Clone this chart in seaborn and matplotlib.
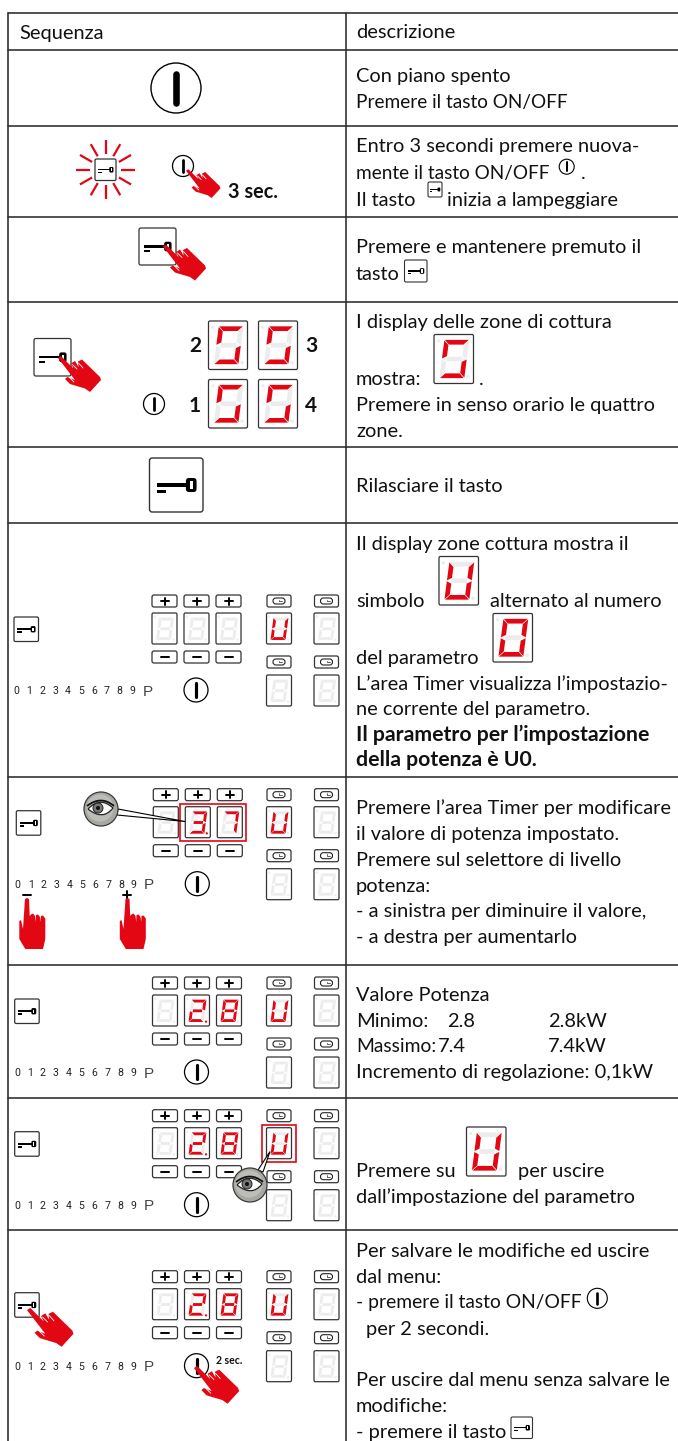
import pandas as pd
import matplotlib
matplotlib.use("Agg")
import matplotlib.pyplot as plt
import seaborn as sns
from matplotlib.patches import Circle, FancyBboxPatch, PathPatch, Polygon, Rectangle
from matplotlib.path import Path

# ===============================
# Table content
# ===============================
header_labels = ["Sequenza", "descrizione"]
row_edges = [12.5, 49.5, 125.5, 216.5, 301.5, 446.5, 522.5, 777, 965, 1097.5, 1229.5]
column_edges = [7.5, 345.5]

left_text = 356
body_lines = [
    ("Con piano spento", left_text, 82, False),
    ("Premere il tasto ON/OFF", left_text, 108, False),
    ("Entro 3 secondi premere nuova-", left_text, 152, False),
    ("mente il tasto ON/OFF", left_text, 179, False),
    (".", 581, 179, False),
    ("Il tasto", left_text, 206, False),
    ("inizia a lampeggiare", 447, 206, False),
    ("Premere e mantenere premuto il", left_text, 253, False),
    ("tasto", left_text, 280, False),
    ("I display delle zone di cottura", left_text, 328, False),
    ("mostra:", left_text, 385, False),
    (".", 479, 385, False),
    ("Premere in senso orario le quattro", left_text, 411, False),
    ("zone.", left_text, 437, False),
    ("Rilasciare il tasto", left_text, 492.5, False),
    ("Il display zone cottura mostra il", left_text, 550, False),
    ("simbolo", left_text, 607, False),
    ("alternato al numero", 490, 607, False),
    ("del parametro", left_text, 664, False),
    ("L’area Timer visualizza l’impostazio-", left_text, 690, False),
    ("ne corrente del parametro.", left_text, 715, False),
    ("Il parametro per l’impostazione", left_text, 741, True),
    ("della potenza è U0.", left_text, 766, True),
    ("Premere l’area Timer per modificare", left_text, 814, False),
    ("il valore di potenza impostato.", left_text, 840, False),
    ("Premere sul selettore di livello", left_text, 866, False),
    ("potenza:", left_text, 892, False),
    ("- a sinistra per diminuire il valore,", left_text, 917, False),
    ("- a destra per aumentarlo", left_text, 943, False),
    ("Valore Potenza", left_text, 1001, False),
    ("Minimo:", left_text, 1027, False),
    ("2.8", 447, 1027, False),
    ("2.8kW", 548, 1027, False),
    ("Massimo:", left_text, 1052, False),
    ("7.4", 438, 1052, False),
    ("7.4kW", 548, 1052, False),
    ("Incremento di regolazione: 0,1kW", left_text, 1078, False),
    ("Premere su", left_text, 1177, False),
    ("per uscire", 518, 1177, False),
    ("dall’impostazione del parametro", left_text, 1203, False),
    ("Per salvare le modifiche ed uscire", left_text, 1257, False),
    ("dal menu:", left_text, 1283, False),
    ("- premere il tasto ON/OFF", left_text, 1308, False),
    ("per 2 secondi.", 366, 1335, False),
    ("Per uscire dal menu senza salvare le", left_text, 1386, False),
    ("modifiche:", left_text, 1412, False),
    ("- premere il tasto", left_text, 1438, False),
]
# lines where Lato runs wider than the original face
narrow_lines = {"Premere il tasto ON/OFF": 13.7, "mente il tasto ON/OFF": 13.7,
                "- premere il tasto ON/OFF": 13.9, "Massimo:": 13.9}

scale_labels = ["0", "1", "2", "3", "4", "5", "6", "7", "8", "9"]
zone_labels = [("2", 195, 352.5), ("3", 311, 352.5), ("1", 195, 411.5), ("4", 311, 411.5)]
panel_offsets = [0, 193.7, 382, 514.7, 675.7]
panel_shift = [0, 1.3, 0.5, 0.5, 0.5]
panel_key_x = [14, 16.3, 14.7, 14.7, 14.7]
panel_digits = [["", "", ""], ["", "3.", "7"], ["", "2.", "8"], ["", "2.", "8"], ["", "2.", "8"]]

segments_for = {"": "", "0": "abcdef", "2": "abged", "3": "abgcd", "5": "afcd",
                "7": "abc", "8": "abcdefg", "U": "bcdef"}

RED = "#e30613"
OFF = "#ececec"
INK = "#111111"
BODY_FONT = ["Lato", "DejaVu Sans"]
BODY_SIZE = 14.4
BOLD_SIZE = 15.3

# ===============================
# Figure
# ===============================
sns.set_theme(style="white")
plt.rcParams["font.family"] = BODY_FONT

fig = plt.figure(figsize=(6.78, 14.41), dpi=100)
ax = fig.add_axes([0, 0, 1, 1])

# table rules go through seaborn as one long table
rules = []
for i, y in enumerate(row_edges):
    rules += [{"rule": f"h{i}", "x": column_edges[0], "y": y}, {"rule": f"h{i}", "x": 678, "y": y}]
for i, x in enumerate(column_edges):
    rules += [{"rule": f"v{i}", "x": x, "y": row_edges[0]}, {"rule": f"v{i}", "x": x, "y": 1441}]
rules = pd.DataFrame(rules)
sns.lineplot(data=rules, x="x", y="y", units="rule", estimator=None, sort=False,
             color="#2b2b2b", linewidth=1.15, legend=False, ax=ax, zorder=1)

ax.set_xlim(0, 678)
ax.set_ylim(1441, 0)
ax.axis("off")


# ===============================
# Drawing helpers (pixel coordinates)
# ===============================
def rbox(x0, y0, x1, y1, lw=0.9, round_px=2, fc="white", ec="#333333", z=3):
    ax.add_patch(FancyBboxPatch((x0, y0), x1 - x0, y1 - y0, mutation_aspect=1,
                                boxstyle=f"round,pad=0,rounding_size={round_px}",
                                fc=fc, ec=ec, lw=lw, zorder=z))


def key(x0, y0, x1, y1, lw=0.9):
    w, h = x1 - x0, y1 - y0
    rbox(x0, y0, x1, y1, lw=lw, round_px=max(1.5, w * 0.05))
    t = h * 0.065
    yc = y0 + h * 0.5
    ax.add_patch(Rectangle((x0 + w * 0.14, yc - t / 2), w * 0.56, t, fc="black", ec="none", zorder=4))
    ax.add_patch(Rectangle((x0 + w * 0.14, yc + h * 0.09), w * 0.17, t, fc="black", ec="none", zorder=4))
    rbox(x0 + w * 0.68, yc - h * 0.13, x0 + w * 0.88, yc + h * 0.13, lw=0, round_px=w * 0.06, fc="black", ec="none", z=4)
    ax.add_patch(Rectangle((x0 + w * 0.755, yc - h * 0.07), w * 0.05, h * 0.14, fc="white", ec="none", zorder=5))


def power(cx, cy, r, lw=0.9):
    ax.add_patch(Circle((cx, cy), r, fc="white", ec="black", lw=lw, zorder=3))
    ax.plot([cx, cx], [cy - r * 0.58, cy + r * 0.58], color="black", lw=r * 0.19,
            solid_capstyle="round", zorder=4)


def digit(x0, y0, x1, y1, char="", lw=0.9, inset=(0.2, 0.83, 0.11, 0.89)):
    rbox(x0, y0, x1, y1, lw=lw, round_px=1.5)
    w, h = x1 - x0, y1 - y0
    dot = char.endswith(".")
    on = segments_for[char.rstrip(".")]
    X0, W = x0 + w * inset[0], w * (inset[1] - inset[0])
    Y0, H = y0 + h * inset[2], h * (inset[3] - inset[2])
    t, g, lean = W * 0.19, W * 0.02, W * 0.2
    shapes = {
        "a": [(g, 0), (W - g, 0), (W - g - t, t), (g + t, t)],
        "d": [(g + t, H - t), (W - g - t, H - t), (W - g, H), (g, H)],
        "g": [(t, H / 2 - t / 2), (W - t, H / 2 - t / 2), (W - t, H / 2 + t / 2), (t, H / 2 + t / 2)],
        "f": [(0, g), (t, g + t), (t, H / 2 - g - t / 2), (0, H / 2 - g)],
        "e": [(0, H / 2 + g), (t, H / 2 + g + t / 2), (t, H - g - t), (0, H - g)],
        "b": [(W, g), (W - t, g + t), (W - t, H / 2 - g - t / 2), (W, H / 2 - g)],
        "c": [(W, H / 2 + g), (W - t, H / 2 + g + t / 2), (W - t, H - g - t), (W, H - g)],
    }
    for name, pts in shapes.items():
        verts = [(X0 + u + (0.5 - v / H) * lean, Y0 + v) for u, v in pts]
        ax.add_patch(Polygon(verts, closed=True, fc=RED if name in on else OFF, ec="none", zorder=4))
    ax.add_patch(Circle((x0 + w * 0.11, y0 + h * 0.13), w * 0.04, fc=OFF, ec="none", zorder=4))
    ax.add_patch(Circle((x0 + w * 0.86, y0 + h * 0.86), w * 0.045, fc=RED if dot else OFF, ec="none", zorder=4))


hand_outline = [(0, 1), (3, -1), (15.5, 11.5), (13, 6.5), (17, 4), (20.5, 10), (20, 4.5), (24, 2.5),
                (42, 20), (43, 23), (32, 35), (27, 31.5), (12, 27), (7, 22), (9.5, 20), (17, 23)]
hand_splits = [((14.5, 7.5), (19, 12)), ((20.5, 6), (25, 11)), ((11, 20), (16, 25))]


def hand(tx, ty, scale=1.0):
    pts = [(tx + u * scale, ty + v * scale) for u, v in hand_outline]
    ax.add_patch(Polygon(pts, closed=True, fc=RED, ec="none", zorder=7))
    for a, b in hand_splits:
        ax.plot([tx + a[0] * scale, tx + b[0] * scale], [ty + a[1] * scale, ty + b[1] * scale],
                color="white", lw=0.6, zorder=8)


finger_outline = [(0, 1), (2, 0), (4, 1), (4.7, 18), (6, 16.5), (8, 15.5), (10, 18), (10.7, 24), (11, 17),
                  (13, 16.5), (15, 19), (15.7, 24), (16, 18), (18, 17.5), (20.3, 20.5), (20.3, 41),
                  (18, 51), (0.3, 51), (-5.7, 41), (-5.7, 23), (-4, 22), (-2, 31)]


def pointing_hand(x, y):
    pts = [(x + u, y + v) for u, v in finger_outline]
    ax.add_patch(Polygon(pts, closed=True, fc=RED, ec="none", zorder=7))


def eye(cx, cy, target, start_a, start_b):
    r = 17
    ax.add_patch(Polygon([start_a, start_b, target], closed=True, fc="white", ec="black", lw=0.8, zorder=6))
    ax.add_patch(Circle((cx, cy), r, fc="#a8a8a3", ec="#3a3a3a", lw=0.9, zorder=6))
    ax.add_patch(Circle((cx - 1, cy - 1), r * 0.8, fc="#bdbdb8", ec="none", zorder=6))
    almond = Path([(cx - 13, cy), (cx - 1, cy - 13), (cx + 12, cy - 1), (cx + 2, cy + 12), (cx - 13, cy)],
                  [Path.MOVETO, Path.CURVE3, Path.CURVE3, Path.CURVE3, Path.CURVE3])
    ax.add_patch(PathPatch(almond, fc="white", ec="#222222", lw=0.9, zorder=6))
    ax.add_patch(Circle((cx - 3, cy - 1), 5, fc="#777777", ec="#222222", lw=0.7, zorder=6))
    ax.add_patch(Circle((cx - 3, cy - 1), 2, fc="#111111", ec="none", zorder=6))
    lid = Path([(cx - 14, cy - 3), (cx, cy - 14), (cx + 13, cy - 3)], [Path.MOVETO, Path.CURVE3, Path.CURVE3])
    ax.add_patch(PathPatch(lid, fc="none", ec="#111111", lw=1.3, zorder=6))


def panel(dy, dx, key_x, chars):
    key(key_x, 617 + dy, key_x + 24.5, 641.5 + dy)
    for n, x0 in enumerate([152, 184, 216]):
        x = x0 + dx
        rbox(x, 595 + dy, x + 25, 607 + dy)
        ax.plot([x + 8.5, x + 16.5], [601 + dy, 601 + dy], color="black", lw=1.4, zorder=4)
        ax.plot([x + 12.5, x + 12.5], [597.5 + dy, 604.5 + dy], color="black", lw=1.4, zorder=4)
        digit(x, 613 + dy, x + 25, 644 + dy, chars[n], inset=(0.22, 0.82, 0.15, 0.87))
        rbox(x, 651 + dy, x + 25, 663 + dy)
        ax.plot([x + 8.5, x + 16.5], [657 + dy, 657 + dy], color="black", lw=1.4, zorder=4)
    for n, lab in enumerate(scale_labels):
        ax.text(16.5 + dx + n * 12.9, 694 + dy, lab, fontsize=7.6, family=["Roboto"], color="#222222",
                ha="center", va="baseline", zorder=4)
    ax.text(148 + dx, 695.5 + dy, "P", fontsize=11, family=["Liberation Sans"], color="#444444",
            ha="center", va="baseline", zorder=4)
    power(196 + dx, 690 + dy, 12)
    timer_cells = [(267, 595, 613, "U"), (314.5, 595, 613, ""), (267, 656, 675, ""), (314.5, 656, 675, "")]
    for x, by, dsy, ch in timer_cells:
        rbox(x, by + dy, x + 24, by + 12 + dy)
        ax.add_patch(FancyBboxPatch((x + 6, by + 3 + dy), 12, 6, mutation_aspect=1,
                                    boxstyle="round,pad=0,rounding_size=2.9", fc="white", ec="#222222", lw=0.8, zorder=4))
        ax.plot([x + 12, x + 12, x + 15], [by + 4.5 + dy, by + 6.2 + dy, by + 6.2 + dy], color="#222222", lw=0.5, zorder=5)
        digit(x - 0.5, dsy + dy, x + 24.5, dsy + 31 + dy, ch, inset=(0.22, 0.82, 0.15, 0.87))


# ===============================
# Text
# ===============================
for label, x in zip(header_labels, [19, 356]):
    ax.text(x, 38.5, label, fontsize=BODY_SIZE, color=INK, va="baseline", zorder=5)
for text, x, y, bold in body_lines:
    size = BOLD_SIZE if bold else narrow_lines.get(text, BODY_SIZE)
    ax.text(x, y, text, fontsize=size, color=INK, va="baseline", zorder=5,
            fontweight="bold" if bold else "normal", clip_on=True)
ax.text(228, 198, "3 sec.", fontsize=14.3, fontweight="bold", color=INK, va="baseline", zorder=8)
ax.text(216, 1364, "2 sec.", fontsize=7.6, fontweight="bold", color=INK, va="baseline", zorder=8)
for label, x, y in zone_labels:
    ax.text(x, y, label, fontsize=15, fontweight="bold", color=INK, ha="center", va="baseline", zorder=8)

# ===============================
# Row 1 to 5 icons
# ===============================
power(176, 88, 25, lw=1.0)

# blinking key
for angle_dx, angle_dy in [(0, -1), (0.5, -0.866), (0.866, -0.5), (1, 0), (0.866, 0.5), (0.5, 0.866),
                           (0, 1), (-0.5, 0.866), (-0.866, 0.5), (-1, 0), (-0.866, -0.5), (-0.5, -0.866)]:
    ax.plot([105.5 + 15.5 * angle_dx, 105.5 + 29.5 * angle_dx], [169.7 + 15.5 * angle_dy, 169.7 + 29.5 * angle_dy],
            color=RED, lw=1.6, zorder=4, solid_capstyle="butt")
key(95, 159, 116, 180.5)
power(183, 166, 10.5)
hand(186, 170, 0.8)

key(139, 228, 176, 265)
hand(163, 245.5, 1.0)

key(34, 338.5, 71, 376)
hand(58, 357, 1.0)
power(154, 404, 10.5)
for x0, y0 in [(208.5, 321), (258.5, 321), (208.5, 379.5), (258.5, 379.5)]:
    digit(x0, y0, x0 + 39, y0 + 48.5, "5")

key(149.5, 458, 203, 512, lw=1.0)

# ===============================
# Rows with the full control panel
# ===============================
for dy, dx, key_x, chars in zip(panel_offsets, panel_shift, panel_key_x, panel_digits):
    panel(dy, dx, key_x, chars)

# selected fields and eye pointers
ax.add_patch(Rectangle((180, 803.5), 66, 37.5, fc="none", ec=RED, lw=1.2, zorder=5))
eye(101, 809, (185, 821.5), (118, 809), (117, 815))
ax.add_patch(Rectangle((261.5, 1124.5), 34.5, 37, fc="none", ec=RED, lw=1.2, zorder=5))
eye(250, 1185, (270, 1151.5), (258, 1170), (263, 1172))

# pressing hands and selector marks
ax.plot([23, 30.5], [895, 895], color="black", lw=1.4, zorder=6)
ax.plot([123, 131], [895, 895], color="black", lw=1.4, zorder=6)
ax.plot([127, 127], [891, 899], color="black", lw=1.4, zorder=6)
pointing_hand(25, 898)
pointing_hand(125.5, 898)
hand(27, 1309, 1.08)
hand(194, 1367, 1.05)

# ===============================
# Icons inside the description column
# ===============================
power(566.7, 166.7, 7.5, lw=0.8)
key(428, 182, 442, 197, lw=0.8)
key(404.5, 260, 427, 282, lw=0.8)
digit(434, 334.5, 473.5, 383.5, "5")
digit(439, 556.5, 478.5, 605, "U")
digit(493, 613.5, 532.5, 662, "0")
digit(466.5, 1127, 506, 1176, "U")
power(597.3, 1298.3, 10, lw=0.8)
key(511, 1417, 532.5, 1438.5, lw=0.8)

plt.savefig("out.png", dpi=100)
plt.close()
